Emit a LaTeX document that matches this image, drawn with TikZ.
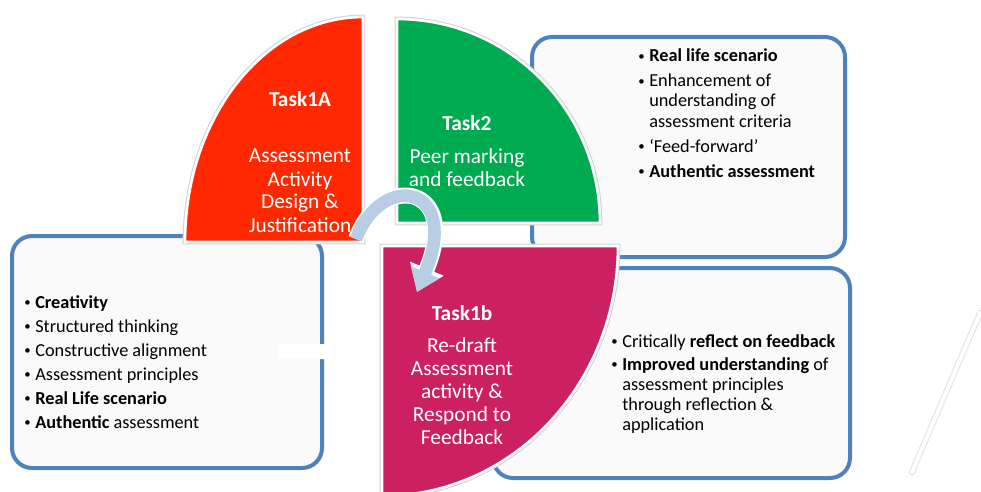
\documentclass[tikz,border=0pt]{standalone}
\usepackage{fontspec}
\usepackage{graphicx}
\setmainfont{Carlito}
\usetikzlibrary{shapes,backgrounds}
\usetikzlibrary{arrows.meta}

\definecolor{taskred}{RGB}{255,40,0}
\definecolor{taskgreen}{RGB}{0,170,80}
\definecolor{taskpink}{RGB}{204,33,96}
\definecolor{boxblue}{RGB}{79,129,189}
\definecolor{arrowblue}{RGB}{185,205,229}
\definecolor{boxfill}{RGB}{250,250,250}

\newcommand{\itemdot}{\raisebox{0.15ex}{\scalebox{0.7}{\textbullet}}}

\tikzset{
  infobox/.style={draw=boxblue, line width=3pt, fill=boxfill, rounded corners=15pt},
  taskshape/.style={draw=white, line width=2pt, preaction={draw=black!18, line width=3.5pt}},
  tasktext/.style={text=white, font=\fontsize{16}{17.25}\selectfont, inner sep=0pt, anchor=base},
  bullettext/.style={font=\fontsize{13.7}{15}\selectfont, inner sep=0pt, anchor=base west},
}

\begin{document}
\begin{tikzpicture}[x=0.75pt, y=-0.75pt]
	\useasboundingbox (0,0) rectangle (981,492);
	% text boxes
	\draw[infobox] (12,236) rectangle (322,468);
	\draw[infobox] (532,37) rectangle (845,257);
	\draw[infobox] (493,268) rectangle (850,478);
	\fill[white, rounded corners=3pt] (278,344) rectangle (353,359);
	% task quarters
	\filldraw[taskshape, fill=taskred] (363,242) -- (185,242) arc[start angle=180, end angle=270, x radius=178, y radius=225] -- cycle;
	\filldraw[taskshape, fill=taskgreen] (397,223) -- (397,19) arc[start angle=270, end angle=360, x radius=203, y radius=204] -- cycle;
	\filldraw[taskshape, fill=taskpink] (382,246) -- (618,246) arc[start angle=0, end angle=90, x radius=236, y radius=250] -- cycle;
	% arrow from 1A to 1b
	\coordinate (arrowtail) at (356,239);
	\coordinate (arrowtip) at (417,292);
	\draw[white, line width=12pt, -{Triangle[width=26pt, length=19pt]}] (arrowtail) .. controls (382,170) and (462,185) .. (arrowtip);
	\draw[arrowblue, line width=9.5pt, -{Triangle[width=22pt, length=16pt]}] (arrowtail) .. controls (382,170) and (462,185) .. (arrowtip);
	% task texts
	\node[tasktext] (task1a) at (300,107) {\begin{tabular}[t]{@{}c@{}}\textbf{Task1A}\\[24.75pt]Assessment\\Activity\\Design \&\\Justification\end{tabular}};
	\node[tasktext] (task2) at (467,130) {\begin{tabular}[t]{@{}c@{}}\textbf{Task2}\\[7.5pt]Peer marking\\and feedback\end{tabular}};
	\node[tasktext] (task1b) at (462,320) {\begin{tabular}[t]{@{}c@{}}\textbf{Task1b}\\[6.75pt]Re-draft\\Assessment\\activity \&\\Respond to\\Feedback\end{tabular}};
	% bullet lists
	\node[bullettext] (list1a) at (24,308) {\begin{tabular}[t]{@{}l@{\hspace{3.5pt}}l@{}}
		\itemdot & \textbf{Creativity}\\[3pt]
		\itemdot & Structured thinking\\[3pt]
		\itemdot & Constructive alignment\\[3pt]
		\itemdot & Assessment principles\\[3pt]
		\itemdot & \textbf{Real Life scenario}\\[3pt]
		\itemdot & \textbf{Authentic} assessment
	\end{tabular}};
	\node[bullettext] (list2) at (638,62) {\begin{tabular}[t]{@{}l@{\hspace{3.5pt}}l@{}}
		\itemdot & \textbf{Real life scenario}\\[3.75pt]
		\itemdot & Enhancement of\\
		 & understanding of\\
		 & assessment criteria\\[3.75pt]
		\itemdot & ‘Feed-forward’\\[3.75pt]
		\itemdot & \textbf{Authentic assessment}
	\end{tabular}};
	\node[bullettext] (list1b) at (611,347) {\begin{tabular}[t]{@{}l@{\hspace{3.5pt}}l@{}}
		\itemdot & Critically \textbf{reflect on feedback}\\[2.25pt]
		\itemdot & \textbf{Improved understanding} of\\
		 & assessment principles\\
		 & through reflection \&\\
		 & application
	\end{tabular}};
	% faint glare on the right
	\coordinate (glaretop) at (980,313);
	\coordinate (glarebottom) at (912,472);
	\draw[black!12, line width=4.5pt, line cap=round] (glaretop) -- (glarebottom);
	\draw[white, line width=3pt, line cap=round] (glaretop) -- (glarebottom);
\end{tikzpicture}
\end{document}
